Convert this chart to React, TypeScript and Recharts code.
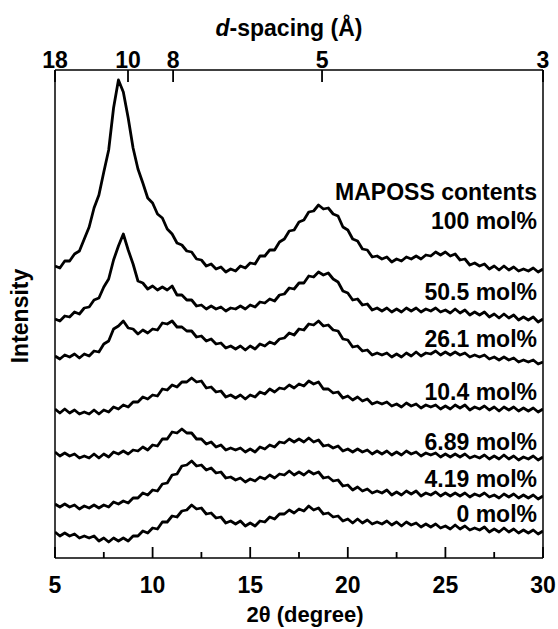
import { LineChart, Line, XAxis, YAxis, ReferenceLine } from 'recharts';

// 2θ (degree) sampling grid
const TWO_THETA = [
  5, 5.25, 5.5, 5.75, 6, 6.25, 6.5, 6.75, 7, 7.25,
  7.5, 7.75, 8, 8.25, 8.5, 8.75, 9, 9.25, 9.5, 9.75,
  10, 10.25, 10.5, 10.75, 11, 11.25, 11.5, 11.75, 12, 12.25,
  12.5, 12.75, 13, 13.25, 13.5, 13.75, 14, 14.25, 14.5, 14.75,
  15, 15.25, 15.5, 15.75, 16, 16.25, 16.5, 16.75, 17, 17.25,
  17.5, 17.75, 18, 18.25, 18.5, 18.75, 19, 19.25, 19.5, 19.75,
  20, 20.25, 20.5, 20.75, 21, 21.25, 21.5, 21.75, 22, 22.25,
  22.5, 22.75, 23, 23.25, 23.5, 23.75, 24, 24.25, 24.5, 24.75,
  25, 25.25, 25.5, 25.75, 26, 26.25, 26.5, 26.75, 27, 27.25,
  27.5, 27.75, 28, 28.25, 28.5, 28.75, 29, 29.25, 29.5, 29.75,
  30,
];

// intensities (a.u.), curves already offset as stacked in the figure
const MAPOSS_100 = [
  292, 290, 297, 297, 304, 307, 319, 331, 350, 363,
  386, 408, 450, 478, 466, 440, 410, 389, 375, 360,
  355, 344, 340, 329, 324, 315, 313, 307, 306, 299,
  298, 292, 294, 289, 291, 286, 289, 287, 292, 290,
  295, 294, 302, 302, 308, 308, 316, 319, 327, 328,
  336, 338, 346, 347, 353, 349, 350, 344, 342, 331,
  328, 319, 317, 309, 308, 301, 302, 299, 301, 296,
  299, 297, 301, 299, 302, 299, 303, 302, 306, 303,
  306, 302, 304, 298, 299, 293, 295, 292, 294, 289,
  292, 288, 292, 288, 291, 287, 289, 287, 290, 286,
  289,
];
const MAPOSS_50_5 = [
  239, 237, 242, 241, 246, 244, 250, 251, 258, 260,
  271, 279, 298, 312, 324, 308, 294, 277, 275, 269,
  272, 268, 271, 268, 272, 263, 263, 258, 258, 252,
  253, 249, 252, 249, 251, 247, 250, 249, 252, 249,
  253, 251, 256, 255, 259, 257, 263, 264, 270, 269,
  275, 275, 282, 281, 286, 283, 285, 279, 276, 267,
  265, 258, 259, 253, 254, 248, 250, 247, 250, 246,
  249, 246, 250, 247, 250, 246, 249, 247, 250, 246,
  248, 245, 249, 245, 248, 243, 246, 243, 246, 241,
  244, 240, 244, 240, 243, 238, 241, 238, 241, 236,
  239,
];
const MAPOSS_26_1 = [
  202, 199, 203, 201, 204, 200, 204, 202, 207, 206,
  214, 217, 229, 232, 237, 230, 229, 224, 228, 225,
  229, 228, 235, 234, 237, 231, 231, 227, 227, 221,
  222, 217, 219, 214, 215, 210, 212, 209, 212, 208,
  212, 209, 214, 212, 216, 214, 219, 220, 225, 223,
  229, 228, 234, 233, 237, 232, 233, 228, 227, 219,
  218, 211, 212, 207, 208, 203, 205, 203, 205, 201,
  204, 201, 205, 202, 206, 202, 205, 204, 207, 203,
  206, 203, 206, 203, 205, 201, 203, 201, 203, 199,
  201, 198, 201, 198, 200, 196, 198, 196, 198, 194,
  196,
];
const MAPOSS_10_4 = [
  149, 145, 149, 145, 148, 144, 146, 144, 148, 144,
  148, 146, 151, 149, 153, 151, 156, 156, 161, 159,
  163, 162, 169, 168, 173, 171, 176, 176, 180, 176,
  177, 170, 171, 166, 167, 161, 163, 160, 163, 159,
  163, 161, 166, 164, 169, 166, 170, 169, 173, 170,
  174, 172, 177, 174, 176, 169, 169, 165, 166, 160,
  162, 158, 161, 157, 159, 154, 156, 154, 156, 152,
  154, 151, 155, 152, 154, 150, 153, 151, 153, 149,
  152, 149, 153, 150, 153, 148, 151, 149, 152, 148,
  151, 147, 151, 148, 151, 147, 150, 147, 150, 146,
  149,
];
const MAPOSS_6_89 = [
  106, 102, 105, 102, 104, 100, 102, 100, 104, 100,
  104, 101, 106, 104, 107, 104, 108, 107, 111, 108,
  113, 112, 119, 119, 126, 125, 129, 125, 125, 119,
  119, 114, 116, 111, 113, 108, 110, 108, 110, 106,
  109, 106, 111, 109, 113, 111, 116, 115, 119, 116,
  119, 116, 120, 116, 118, 112, 113, 110, 112, 107,
  109, 106, 109, 106, 108, 104, 107, 104, 107, 103,
  106, 103, 107, 104, 106, 102, 105, 103, 105, 101,
  104, 101, 104, 101, 104, 100, 102, 100, 103, 99,
  102, 99, 103, 99, 102, 98, 101, 99, 102, 98,
  101,
];
const MAPOSS_4_19 = [
  54, 51, 54, 51, 53, 49, 52, 50, 53, 50,
  53, 51, 56, 54, 57, 55, 60, 60, 65, 63,
  68, 67, 74, 75, 83, 84, 92, 93, 97, 92,
  93, 88, 90, 85, 86, 80, 81, 78, 80, 76,
  79, 77, 81, 79, 83, 80, 84, 83, 87, 83,
  86, 83, 87, 84, 86, 80, 81, 77, 78, 72,
  73, 68, 71, 67, 69, 65, 67, 65, 68, 63,
  66, 63, 67, 64, 67, 62, 65, 63, 66, 62,
  65, 62, 65, 62, 65, 61, 64, 62, 65, 61,
  63, 60, 64, 61, 64, 60, 63, 60, 63, 59,
  62,
];
const MAPOSS_0 = [
  26, 22, 25, 22, 24, 20, 22, 20, 22, 17,
  20, 16, 20, 17, 20, 17, 22, 22, 27, 25,
  30, 29, 36, 36, 42, 41, 47, 48, 53, 49,
  50, 44, 45, 40, 41, 35, 37, 34, 37, 32,
  35, 32, 37, 36, 41, 39, 44, 44, 48, 45,
  49, 47, 52, 48, 50, 44, 45, 41, 42, 37,
  39, 35, 39, 35, 38, 34, 36, 34, 37, 33,
  36, 32, 36, 33, 35, 31, 34, 31, 34, 30,
  32, 29, 33, 29, 32, 28, 30, 28, 31, 26,
  29, 26, 30, 26, 29, 25, 28, 25, 28, 24,
  27,
];

const SERIES = [
  { key: 'm100', label: '100 mol%', values: MAPOSS_100 },
  { key: 'm50', label: '50.5 mol%', values: MAPOSS_50_5 },
  { key: 'm26', label: '26.1 mol%', values: MAPOSS_26_1 },
  { key: 'm10', label: '10.4 mol%', values: MAPOSS_10_4 },
  { key: 'm6', label: '6.89 mol%', values: MAPOSS_6_89 },
  { key: 'm4', label: '4.19 mol%', values: MAPOSS_4_19 },
  { key: 'm0', label: '0 mol%', values: MAPOSS_0 },
];

const MAJOR_TICKS = [5, 10, 15, 20, 25, 30];
const MINOR_TICKS = [7.5, 12.5, 17.5, 22.5, 27.5];
// d-spacing ticks (Å) and where they sit on the 2θ scale
const D_SPACING_LABELS = ['18', '10', '8', '5', '3'];
const D_SPACING_AT = [5, 8.74, 11.05, 18.68, 30];

const FONT = '"Liberation Sans", Arial, Helvetica, sans-serif';

const rows = TWO_THETA.map((x, i) => {
  const row: Record<string, number> = { x };
  SERIES.forEach((s) => {
    row[s.key] = s.values[i];
  });
  return row;
});

function BottomLabel(props: any) {
  const { x, y, payload } = props;
  return (
    <text x={x} y={y + 35} textAnchor="middle" fontFamily={FONT} fontWeight="bold" fontSize={23} fill="#000">
      {payload.value}
    </text>
  );
}

function TopLabel(props: any) {
  const { x, y, index } = props;
  return (
    <text x={x} y={y - 2} textAnchor="middle" fontFamily={FONT} fontWeight="bold" fontSize={23} fill="#000">
      {D_SPACING_LABELS[index]}
    </text>
  );
}

const LABEL_Y = [229, 300, 347, 400, 450, 487, 522];
const AXIS_STYLE = { stroke: '#000', strokeWidth: 1.5 };
const TICK_STYLE = { stroke: '#000', strokeWidth: 1.8 };

export default function App() {
  return (
    <div style={{ position: 'absolute', left: 0, top: 0, width: 558, height: 629, background: '#fff' }}>
      <LineChart width={558} height={629} data={rows} margin={{ top: 0, right: 0, bottom: 0, left: 0 }}>
        <XAxis
          xAxisId="bottom"
          dataKey="x"
          type="number"
          domain={[5, 30]}
          allowDataOverflow
          ticks={MAJOR_TICKS}
          interval={0}
          orientation="bottom"
          height={71}
          tickSize={-11}
          tickMargin={11}
          tickLine={TICK_STYLE}
          axisLine={AXIS_STYLE}
          tick={<BottomLabel />}
        />
        <XAxis
          xAxisId="top"
          dataKey="x"
          type="number"
          domain={[5, 30]}
          allowDataOverflow
          ticks={D_SPACING_AT}
          interval={0}
          orientation="top"
          height={70}
          tickSize={-12}
          tickMargin={12}
          tickLine={TICK_STYLE}
          axisLine={AXIS_STYLE}
          tick={<TopLabel />}
        />
        <YAxis
          yAxisId="left"
          type="number"
          domain={[0, 488]}
          allowDataOverflow
          width={55}
          tick={false}
          tickLine={false}
          axisLine={AXIS_STYLE}
        />
        <YAxis
          yAxisId="right"
          orientation="right"
          type="number"
          domain={[0, 488]}
          allowDataOverflow
          width={15}
          tick={false}
          tickLine={false}
          axisLine={AXIS_STYLE}
        />
        {MINOR_TICKS.map((t) => (
          <ReferenceLine
            key={t}
            xAxisId="bottom"
            yAxisId="left"
            segment={[
              { x: t, y: 0 },
              { x: t, y: 6 },
            ]}
            stroke="#000"
            strokeWidth={1.8}
          />
        ))}
        {SERIES.map((s) => (
          <Line
            key={s.key}
            xAxisId="bottom"
            yAxisId="left"
            dataKey={s.key}
            type="linear"
            stroke="#000"
            strokeWidth={2.8}
            strokeLinejoin="round"
            dot={false}
            isAnimationActive={false}
          />
        ))}
      </LineChart>
      <svg
        width={558}
        height={629}
        style={{ position: 'absolute', left: 0, top: 0, pointerEvents: 'none' }}
      >
        <g fontFamily={FONT} fontWeight="bold" fill="#000">
          <text x={289} y={36} fontSize={23} textAnchor="middle">
            <tspan fontStyle="italic">d</tspan>-spacing (Å)
          </text>
          <text x={305} y={622} fontSize={22} textAnchor="middle">
            2θ (degree)
          </text>
          <text transform="translate(28,316) rotate(-90)" fontSize={23} textAnchor="middle">
            Intensity
          </text>
          <text x={537} y={200} fontSize={23} textAnchor="end">
            MAPOSS contents
          </text>
          {SERIES.map((s, i) => (
            <text key={s.key} x={537} y={LABEL_Y[i]} fontSize={23} textAnchor="end">
              {s.label}
            </text>
          ))}
        </g>
      </svg>
    </div>
  );
}
